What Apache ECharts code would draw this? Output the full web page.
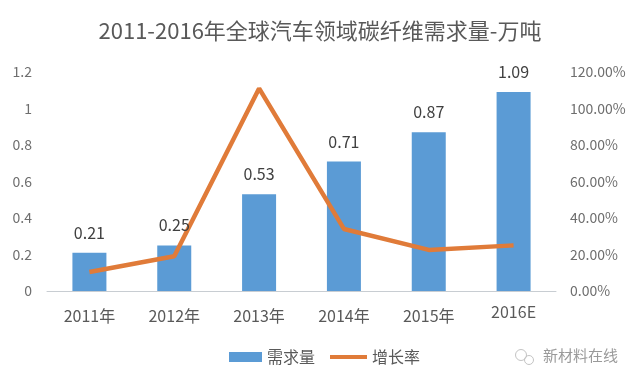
<!DOCTYPE html>
<html><head><meta charset="utf-8">
<style>html,body{margin:0;padding:0;background:#fff}#c{width:640px;height:384px}</style>
<script src="https://cdn.jsdelivr.net/npm/echarts@6/dist/echarts.min.js"></script>
</head><body><div id="c"></div>
<script>
const titleText = '2011-2016年全球汽车领域碳纤维需求量-万吨';
const categories = ['2011年','2012年','2013年','2014年','2015年','2016E'];
const demand = [0.21,0.25,0.53,0.71,0.87,1.09];
const growth = [10.4,19,111,34,22.5,25];
const FONT = '"Noto Sans CJK SC","Open Sans",sans-serif';
const chart = echarts.init(document.getElementById('c'));
const legendText = {fontFamily:FONT,fontSize:16,color:'#595959'};
chart.setOption({
  animation:false,
  backgroundColor:'#fff',
  title:{text:titleText,left:'center',top:15,
    textStyle:{fontFamily:FONT,fontSize:22,fontWeight:'normal',color:'#595959'}},
  grid:{left:47,right:84,top:72,bottom:93},
  legend:[
    {left:224,top:344,itemGap:0,itemWidth:33,itemHeight:10,textStyle:legendText,
     data:[{name:'需求量',icon:'rect'}]},
    {left:325,top:344,itemGap:0,itemWidth:37,itemHeight:4,textStyle:legendText,
     data:[{name:'增长率',icon:'rect'}]}
  ],
  xAxis:{type:'category',data:categories,
    axisTick:{show:false},axisLine:{lineStyle:{color:'#c8cdd2',width:1}},
    axisLabel:{fontFamily:FONT,fontSize:16,color:'#595959',margin:13,interval:0,
      formatter:v=>v.endsWith('E')?'{e|'+v+'}':'{a|'+v+'}',
      rich:{a:{fontFamily:FONT,fontSize:16,color:'#595959',padding:[4,0,0,0]},
            e:{fontFamily:FONT,fontSize:16,color:'#595959'}}}},
  yAxis:[
    {type:'value',min:0,max:1.2,interval:0.2,splitLine:{show:false},axisLine:{show:false},axisTick:{show:false},
     axisLabel:{fontFamily:FONT,fontSize:14,color:'#6e6e6e',margin:15,formatter:v=>String(+v.toFixed(1))}},
    {type:'value',min:0,max:120,interval:20,splitLine:{show:false},axisLine:{show:false},axisTick:{show:false},
     axisLabel:{fontFamily:FONT,fontSize:14,color:'#6e6e6e',margin:14,formatter:v=>v.toFixed(2)+'%'}}
  ],
  series:[
    {name:'需求量',type:'bar',data:demand,barWidth:34,barGap:'-100%',itemStyle:{color:'#5b9bd5'}},
    {name:'增长率',type:'line',yAxisIndex:1,data:growth,symbol:'none',z:5,
     lineStyle:{color:'#e07b39',width:4.5},itemStyle:{color:'#e07b39'}},
    {name:'数值',type:'bar',data:demand,barWidth:34,barGap:'-100%',z:6,itemStyle:{color:'transparent'},
     label:{show:true,position:'top',distance:12,fontFamily:FONT,fontSize:16,color:'#404040'}}
  ],
  graphic:[
    {type:'text',left:543,top:348,z:10,style:{text:'新材料在线',fontFamily:FONT,fontSize:15,fill:'#9a9a9a'}},
    {type:'circle',shape:{cx:521,cy:355,r:5.5},z:10,style:{fill:'none',stroke:'#c4c4c4',lineWidth:1}},
    {type:'circle',shape:{cx:529,cy:360,r:4.5},z:10,style:{fill:'none',stroke:'#c4c4c4',lineWidth:1}}
  ]
});
</script></body></html>
